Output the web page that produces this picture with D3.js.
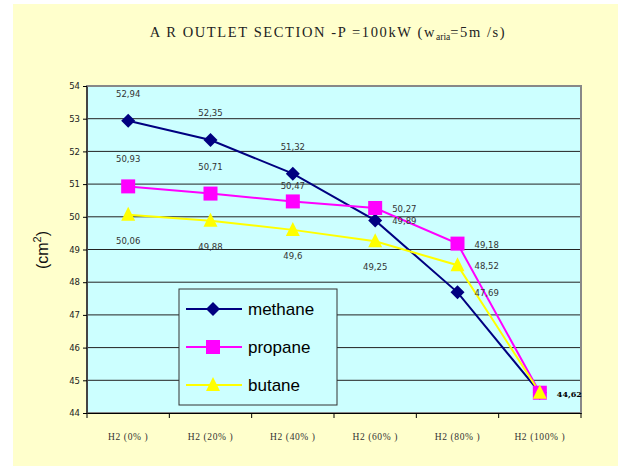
<!DOCTYPE html>
<html>
<head>
<meta charset="utf-8">
<script src="https://cdn.jsdelivr.net/npm/d3@7"></script>
<style>
  body { margin: 0; background: #fff; }
</style>
</head>
<body>
<script>
// chart data
var categories = ["H2 (0% )", "H2 (20% )", "H2 (40% )", "H2 (60% )", "H2 (80% )", "H2 (100% )"];
var methane = [52.94, 52.35, 51.32, 49.89, 47.69, 44.62];
var propane = [50.93, 50.71, 50.47, 50.27, 49.18, 44.62];
var butane = [50.06, 49.88, 49.6, 49.25, 48.52, 44.62];
var yTicks = [44, 45, 46, 47, 48, 49, 50, 51, 52, 53, 54];

// where each data label sits relative to its point
var methanePlace = ["above", "above", "above", "right", "right", "none"];
var propanePlace = ["above", "above", "above2", "right", "right", "none"];
var butanePlace = ["below", "below", "below", "below", "right", "rightBold"];

var svg = d3.select("body").append("svg").attr("width", 618).attr("height", 466),
    margin = {top: 86, left: 87},
    width = 581 - 87,
    height = 413 - 86;

svg.append("rect").attr("x", 13).attr("y", 4).attr("width", 605).attr("height", 462).attr("fill", "#FFFFCC");

// title
var title = svg.append("text")
    .attr("x", 328).attr("y", 37)
    .attr("text-anchor", "middle")
    .attr("font-family", "Liberation Serif")
    .attr("font-size", 14.5)
    .attr("letter-spacing", 1.6)
    .attr("fill", "#222");
title.append("tspan").text("A R OUTLET SECTION -P =100kW  (w");
title.append("tspan").attr("font-size", 9.5).attr("dy", 3).attr("letter-spacing", 0).text("aria");
title.append("tspan").attr("dy", -3).text("=5m /s)");

var g = svg.append("g").attr("transform", "translate(" + margin.left + "," + margin.top + ")");

var x = d3.scaleBand().domain(categories).range([0, width]);
var y = d3.scaleLinear().domain([44, 54]).range([height, 0]);

g.append("rect").attr("width", width).attr("height", height).attr("fill", "#CCFFFF");

// gridlines
g.selectAll(".grid").data(yTicks.slice(1, -1)).enter().append("line")
    .attr("x1", 0).attr("x2", width)
    .attr("y1", function(d) { return y(d); }).attr("y2", function(d) { return y(d); })
    .attr("stroke", "#222").attr("stroke-width", 1);

g.append("rect").attr("width", width).attr("height", height)
    .attr("fill", "none").attr("stroke", "#888").attr("stroke-width", 2);

// axes
var yAxis = g.append("g")
    .call(d3.axisLeft(y).tickValues(yTicks).tickSize(4).tickPadding(3));
yAxis.selectAll("text").attr("font-family", "DejaVu Sans").attr("font-size", 8.5).attr("fill", "#222");
yAxis.selectAll("line, path").attr("stroke", "#000");
yAxis.select(".domain").attr("d", "M-4,0.5H0V" + (height + 0.5) + "H-4");

var xAxis = g.append("g").attr("transform", "translate(0," + height + ")")
    .call(d3.axisBottom(x).tickSize(0).tickPadding(20));
xAxis.selectAll("text").attr("font-family", "Liberation Serif").attr("font-size", 9.5).attr("fill", "#333").attr("letter-spacing", 0.6);
xAxis.select(".domain").attr("stroke", "#000");
xAxis.selectAll(".bt").data(d3.range(categories.length + 1)).enter().append("line")
    .attr("x1", function(i) { return i * x.step(); }).attr("x2", function(i) { return i * x.step(); })
    .attr("y1", 0).attr("y2", 5).attr("stroke", "#000");

svg.append("text")
    .attr("transform", "translate(48,250) rotate(-90)")
    .attr("text-anchor", "middle")
    .attr("font-family", "Liberation Sans").attr("font-size", 16).attr("fill", "#111")
    .text("(cm").append("tspan").attr("font-size", 11).attr("dy", -7).text("2")
    .select(function() { return this.parentNode; }).append("tspan").attr("dy", 7).text(")");

var series = [
  {name: "methane", values: methane, place: methanePlace, color: "#000080", symbol: "diamond"},
  {name: "propane", values: propane, place: propanePlace, color: "#FF00FF", symbol: "square"},
  {name: "butane", values: butane, place: butanePlace, color: "#FFFF00", symbol: "triangle"}
];

function cx(i) { return x(categories[i]) + x.bandwidth() / 2; }

function marker(sel, s) {
  if (s.symbol === "diamond") sel.append("path").attr("d", "M0,-7L7,0L0,7L-7,0Z").attr("fill", s.color);
  if (s.symbol === "square") sel.append("rect").attr("x", -7).attr("y", -7).attr("width", 14).attr("height", 14).attr("fill", s.color);
  if (s.symbol === "triangle") sel.append("path").attr("d", "M0,-8L7,6L-7,6Z").attr("fill", s.color);
}

var line = d3.line().x(function(d, i) { return cx(i); }).y(function(d) { return y(d); });

series.forEach(function(s) {
  g.append("path").datum(s.values).attr("d", line)
      .attr("fill", "none").attr("stroke", s.color).attr("stroke-width", 2);
});
series.forEach(function(s) {
  s.values.forEach(function(v, i) {
    var m = g.append("g").attr("transform", "translate(" + cx(i) + "," + y(v) + ")");
    marker(m, s);
  });
});

// data labels
series.forEach(function(s) {
  s.values.forEach(function(v, i) {
    var p = s.place[i];
    if (p === "none") return;
    var px = cx(i), py = y(v), anchor = "middle";
    if (p === "above") py -= 24;
    if (p === "above2") py -= 12;
    if (p === "below") py += 29;
    if (p === "right" || p === "rightBold") { px += 17; anchor = "start"; py += 4; }
    var t = g.append("text")
        .attr("x", px).attr("y", py)
        .attr("text-anchor", anchor)
        .attr("font-family", "DejaVu Sans").attr("font-size", 8.5).attr("fill", "#333")
        .text(String(v).replace(".", ","));
    if (p === "rightBold") t.attr("font-family", "DejaVu Serif").attr("font-weight", "bold").attr("fill", "#000").attr("font-size", 8);
  });
});

// legend
var lg = svg.append("g").attr("transform", "translate(179,289)");
lg.append("rect").attr("width", 158).attr("height", 116)
    .attr("fill", "#CCFFFF").attr("stroke", "#333").attr("stroke-width", 1);
series.forEach(function(s, i) {
  var row = lg.append("g").attr("transform", "translate(0," + (20 + i * 38) + ")");
  row.append("line").attr("x1", 7).attr("x2", 63).attr("stroke", s.color).attr("stroke-width", 2);
  marker(row.append("g").attr("transform", "translate(34,0)"), s);
  row.append("text").attr("x", 69).attr("y", 6)
      .attr("font-family", "Liberation Sans").attr("font-size", 17).attr("fill", "#000")
      .text(s.name);
});
</script>
</body>
</html>
